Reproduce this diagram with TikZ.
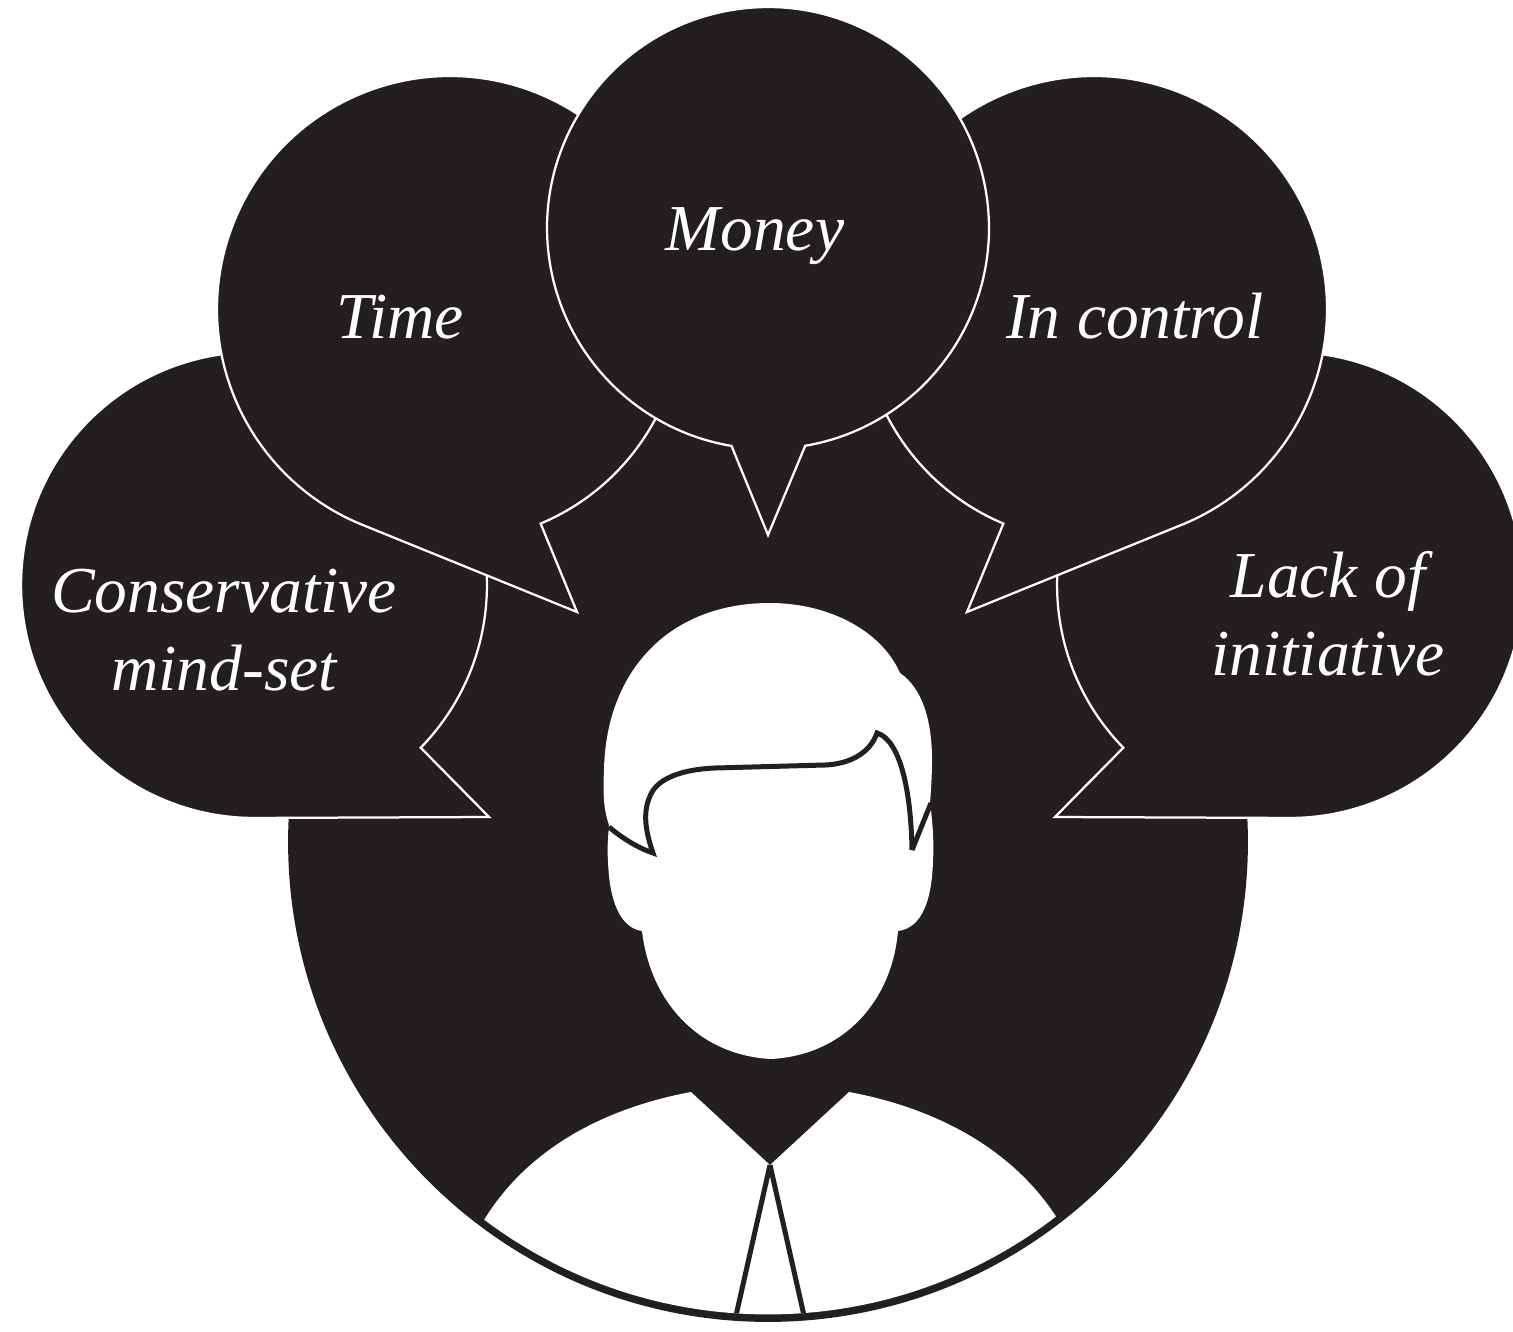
\documentclass[tikz,border=0pt]{standalone}
\usepackage{fontspec}
\setmainfont{Liberation Serif}
\definecolor{ink}{HTML}{231F20}
\tikzset{
  bubble/.style={fill=ink,draw=white,line width=0.045cm,line join=miter},
  caption/.style={text=white,font=\fontsize{37.3}{44}\selectfont\itshape,anchor=base,inner sep=0pt},
  inkline/.style={draw=ink,line width=0.1cm,line join=miter,miter limit=4},
}
\begin{document}
\begin{tikzpicture}[x=0.02cm,y=0.02cm]
\useasboundingbox (0,0) rectangle (1513,-1331);
\fill[white] (0,0) rectangle (1513,-1331);
\clip (0,0) rectangle (1513,-1331);
% large disc
\coordinate (disc) at (768,-842);
\fill[ink] (disc) circle[radius=9.6cm];
% body
\begin{scope}
\clip (disc) circle[radius=9.45cm];
\fill[white] (484,-1220) .. controls (530,-1145) and (610,-1107) .. (691,-1092)
  -- (770,-1165) -- (849,-1092)
  .. controls (930,-1107) and (1010,-1145) .. (1057,-1218)
  -- (1100,-1340) -- (440,-1340) -- cycle;
\coordinate (neck) at (770,-1165);
\coordinate (tieL) at (735,-1320);
\coordinate (tieR) at (805,-1320);
\draw[inkline] (neck) -- (tieL);
\draw[inkline] (neck) -- (tieR);
\end{scope}
% head
\fill[white] (770,-603)
  .. controls (825,-603) and (880,-628) .. (900,-673)
  .. controls (922,-688) and (932,-720) .. (932,-760)
  .. controls (932,-775) and (931,-790) .. (930,-803)
  .. controls (933,-825) and (934,-845) .. (933,-860)
  .. controls (932,-900) and (922,-928) .. (898,-931)
  .. controls (892,-1000) and (845,-1055) .. (771,-1059)
  .. controls (697,-1055) and (650,-1000) .. (642,-931)
  .. controls (620,-928) and (609,-900) .. (608,-860)
  .. controls (607,-850) and (608,-838) .. (609,-825)
  .. controls (603,-808) and (603,-790) .. (604,-770)
  .. controls (606,-670) and (670,-603) .. (770,-603) -- cycle;
\coordinate (hairA) at (609,-827);
\coordinate (hairB) at (653,-853);
\coordinate (hairC) at (877,-733);
\coordinate (hairD) at (912,-850);
\coordinate (hairE) at (931,-803);
\draw[inkline] (hairA) .. controls (622,-838) and (638,-848) .. (hairB)
  .. controls (645,-830) and (642,-810) .. (652,-792)
  .. controls (662,-775) and (690,-769) .. (715,-768)
  -- (825,-765)
  .. controls (850,-764) and (870,-753) .. (hairC)
  .. controls (900,-740) and (911,-790) .. (hairD);
\draw[inkline] (hairD) -- (hairE);
% outer bubbles
\coordinate (cL) at (254,-585);
\coordinate (cR) at (1290,-585);
\coordinate (tipL) at (489,-817);
\coordinate (tipR) at (1055,-817);
\draw[bubble] (cL) ++(-44.3:4.66cm) arc[start angle=-44.3,end angle=270,radius=4.66cm] -- (tipL) -- cycle;
\draw[bubble] (cR) ++(224.3:4.66cm) arc[start angle=224.3,end angle=-90,radius=4.66cm] -- (tipR) -- cycle;
% middle bubbles
\coordinate (cT) at (450,-309);
\coordinate (cI) at (1094,-309);
\coordinate (tipT) at (577,-612);
\coordinate (tipI) at (967,-612);
\draw[bubble] (cT) ++(-67.1:4.66cm) arc[start angle=-67.1,end angle=247.1,radius=4.66cm] -- (tipT) -- cycle;
\draw[bubble] (cI) ++(247.1:4.66cm) arc[start angle=247.1,end angle=-67.1,radius=4.66cm] -- (tipI) -- cycle;
% top bubble
\coordinate (cM) at (768,-228);
\coordinate (tipM) at (768,-535);
\draw[bubble] (cM) ++(-80.3:4.42cm) arc[start angle=-80.3,end angle=260.5,radius=4.42cm] -- (tipM) -- cycle;
% captions
\node[caption] (money) at (755,-250) {Money};
\node[caption] (time) at (400,-338) {Time};
\node[caption] (control) at (1135,-338) {In control};
\node[caption] (cons) at (224,-612) {Conservative};
\node[caption] (mind) at (224,-690) {mind-set};
\node[caption] (lack) at (1328,-597) {Lack of};
\node[caption] (init) at (1328,-675) {initiative};
\end{tikzpicture}
\end{document}
